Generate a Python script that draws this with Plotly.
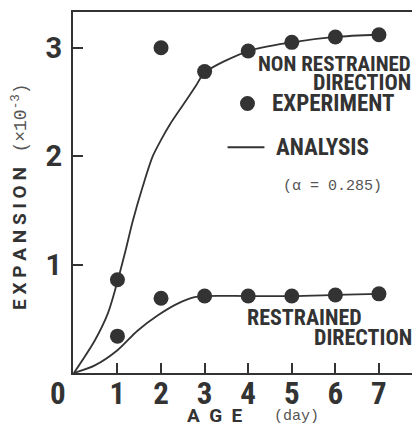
import plotly.graph_objects as go

# ---- data ----
days = [1, 2, 3, 4, 5, 6, 7]
exp_non_restrained = [0.86, 3.00, 2.78, 2.97, 3.05, 3.10, 3.12]
exp_restrained = [0.34, 0.69, 0.71, 0.71, 0.71, 0.72, 0.73]

ana_nr_age = [0, 0.48, 0.78, 0.97, 1.18, 1.35, 1.58, 1.81, 2.0, 2.2, 2.5, 2.8, 3, 4, 5, 6, 7]
ana_nr_val = [0, 0.30, 0.55, 0.80, 1.12, 1.40, 1.72, 2.00, 2.15, 2.29, 2.47, 2.65, 2.77, 2.97, 3.05, 3.10, 3.12]

ana_r_age = [0, 0.48, 1.0, 1.46, 1.92, 2.38, 2.77, 3, 4, 5, 6, 7]
ana_r_val = [0, 0.07, 0.21, 0.39, 0.53, 0.64, 0.70, 0.71, 0.71, 0.71, 0.72, 0.73]

x_ticks = [1, 2, 3, 4, 5, 6, 7]
y_ticks = [1, 2, 3]

INK = "#333333"
GREY = "#555555"
COND = "Roboto Condensed, Open Sans Condensed, DejaVu Sans Condensed, sans-serif"
BOLD = "Roboto, Liberation Sans, sans-serif"
MONO = "Liberation Mono, DejaVu Sans Mono, monospace"

# plot area in page pixels (page has 8px body margin)
PX0, PX1, PY0, PY1 = 73, 417, 10, 373


def px_x(px):
    return (px - PX0) / (PX1 - PX0)


def px_y(py):
    return (PY1 - py) / (PY1 - PY0)


fig = go.Figure()
for xs, ys in [(ana_nr_age, ana_nr_val), (ana_r_age, ana_r_val)]:
    fig.add_trace(go.Scatter(x=xs, y=ys, mode="lines",
                             line=dict(color=INK, width=1.8, shape="spline", smoothing=0.8),
                             showlegend=False, hoverinfo="skip"))
for ys in [exp_non_restrained, exp_restrained]:
    fig.add_trace(go.Scatter(x=days, y=ys, mode="markers",
                             marker=dict(color=INK, size=15),
                             showlegend=False))

# legend glyphs (dot and line)
fig.add_shape(type="circle", xref="paper", yref="paper",
              x0=px_x(240.5), x1=px_x(255.5), y0=px_y(109.5), y1=px_y(94.5),
              fillcolor=INK, line=dict(color=INK, width=0))
fig.add_shape(type="line", xref="paper", yref="paper",
              x0=px_x(228), x1=px_x(265), y0=px_y(146), y1=px_y(146),
              line=dict(color=INK, width=1.8))


def ann(text, px, py, size, family=COND, xanchor="center", color=INK, weight="bold", angle=0):
    fig.add_annotation(text=text, x=px_x(px), y=px_y(py), xref="paper", yref="paper",
                       showarrow=False, xanchor=xanchor, yanchor="middle", textangle=angle,
                       borderpad=0,
                       font=dict(family=family, size=size, color=color, weight=weight))


NB = "\u00a0"
ann("NON RESTRAINED", 413, 62, 21, xanchor="right")
ann("DIRECTION", 413, 81, 22, xanchor="right")
ann("EXPERIMENT", 272, 102, 23, xanchor="left")
ann("ANALYSIS", 276, 146, 23, xanchor="left")
ann("(α = 0.285)", 333, 185, 15, family=MONO, color=GREY, weight="normal")
ann("RESTRAINED", 247, 317, 22, xanchor="left")
ann("DIRECTION", 414, 337, 22, xanchor="right")
ann("0", 58, 394, 31)
ann(f"A{NB}{NB}G{NB}{NB}E", 215, 416, 19, family=BOLD)
ann("(day)", 297, 417, 15, family=MONO, color=GREY, weight="normal")
ann(NB.join("EXPANSION"), 20, 238, 19, family=BOLD, angle=-90)
ann("(×10<sup>-3</sup>)", 20, 117, 18, family=MONO, color=GREY, weight="normal", angle=-90)

fig.update_xaxes(range=[-0.02, 7.85], tickvals=x_ticks, ticktext=[str(v) for v in x_ticks],
                 ticks="inside", ticklen=10, tickwidth=1.5, tickcolor=INK,
                 showline=True, linecolor=INK, linewidth=2, mirror=True,
                 showgrid=False, zeroline=False, ticklabelstandoff=-8,
                 tickfont=dict(family=COND, size=31, color=INK, weight="bold"))
fig.update_yaxes(range=[0, 3.33], tickvals=y_ticks, ticktext=[str(v) for v in y_ticks],
                 ticks="inside", ticklen=10, tickwidth=1.5, tickcolor=INK,
                 showline=True, linecolor=INK, linewidth=2, mirror=True,
                 showgrid=False, zeroline=False, ticklabelstandoff=3,
                 tickfont=dict(family=BOLD, size=29, color=INK, weight="bold"))
fig.update_layout(width=412, height=420, margin=dict(l=65, r=3, t=2, b=55),
                  plot_bgcolor="white", paper_bgcolor="white")
fig.write_html("out.html")
